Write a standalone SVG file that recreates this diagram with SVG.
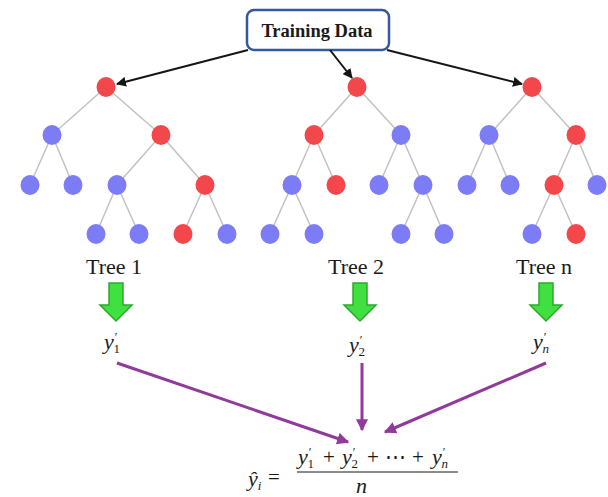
<svg xmlns="http://www.w3.org/2000/svg" width="608" height="497" viewBox="0 0 608 497">
<style>
.e{stroke:#c2c2c2;stroke-width:1.5;fill:none}
.r{fill:#f4474c}
.b{fill:#7b7cf6}
.blk{stroke:#151515;stroke-width:2;fill:none;marker-end:url(#ah)}
.pur{stroke:#913a9c;stroke-width:3;fill:none;marker-end:url(#ap)}
.g{fill:#3fe03f;stroke:#2ca82c;stroke-width:1.5;stroke-linejoin:miter}
.lbl{font-family:"Liberation Serif",serif;font-size:22px;fill:#1a1a1a;text-anchor:middle}
.mi{font-family:"Liberation Serif",serif;font-style:italic;font-size:22px;fill:#1a1a1a}
.mo{font-family:"Liberation Serif",serif;font-size:21px;fill:#1a1a1a}
.pr{font-size:12px;font-style:normal}
.sb{font-size:13px;font-style:normal}
.sbi{font-size:13px;font-style:italic}
</style>
<defs>
<marker id="ah" viewBox="0 0 10 10" refX="9" refY="5" markerWidth="5" markerHeight="5" orient="auto" markerUnits="strokeWidth">
<path d="M0,0 L10,5 L0,10 Z" fill="#151515"/>
</marker>
<marker id="ap" viewBox="0 0 10 10" refX="9" refY="5" markerWidth="4" markerHeight="4" orient="auto" markerUnits="strokeWidth">
<path d="M0,0 L10,5 L0,10 Z" fill="#913a9c"/>
</marker>
</defs>
<rect width="608" height="497" fill="#ffffff"/>

<g id="training-data">
<rect x="247" y="10" width="142" height="40" rx="7" fill="#ffffff" stroke="#35589a" stroke-width="2.5"/>
<text x="317" y="37" font-family="'Liberation Serif',serif" font-weight="bold" font-size="18.5" fill="#1a1a1a" text-anchor="middle">Training Data</text>
</g>

<g id="tree1">
<path class="e" d="M106,87 L52,135 M106,87 L161,135 M52,135 L30,185 M52,135 L73,185 M161,135 L117,185 M161,135 L205,185 M117,185 L96,234 M117,185 L139,234 M205,185 L183,234 M205,185 L227,234"/>
<ellipse class="r" cx="106" cy="87" rx="9.5" ry="10"/>
<ellipse class="b" cx="52" cy="135" rx="9.5" ry="10"/>
<ellipse class="r" cx="161" cy="135" rx="9.5" ry="10"/>
<ellipse class="b" cx="30" cy="185" rx="9.5" ry="10"/>
<ellipse class="b" cx="73" cy="185" rx="9.5" ry="10"/>
<ellipse class="b" cx="117" cy="185" rx="9.5" ry="10"/>
<ellipse class="r" cx="205" cy="185" rx="9.5" ry="10"/>
<ellipse class="b" cx="96" cy="234" rx="9.5" ry="10"/>
<ellipse class="b" cx="139" cy="234" rx="9.5" ry="10"/>
<ellipse class="r" cx="183" cy="234" rx="9.5" ry="10"/>
<ellipse class="b" cx="227" cy="234" rx="9.5" ry="10"/>
<text class="lbl" x="114" y="274">Tree 1</text>
</g>

<g id="tree2">
<path class="e" d="M357,87 L314,135 M357,87 L401,135 M314,135 L292,185 M314,135 L336,185 M401,135 L379,185 M401,135 L423,185 M292,185 L270,234 M292,185 L314,234 M423,185 L401,234 M423,185 L444,234"/>
<ellipse class="r" cx="357" cy="87" rx="9.5" ry="10"/>
<ellipse class="r" cx="314" cy="135" rx="9.5" ry="10"/>
<ellipse class="b" cx="401" cy="135" rx="9.5" ry="10"/>
<ellipse class="b" cx="292" cy="185" rx="9.5" ry="10"/>
<ellipse class="r" cx="336" cy="185" rx="9.5" ry="10"/>
<ellipse class="b" cx="379" cy="185" rx="9.5" ry="10"/>
<ellipse class="b" cx="423" cy="185" rx="9.5" ry="10"/>
<ellipse class="b" cx="270" cy="234" rx="9.5" ry="10"/>
<ellipse class="b" cx="314" cy="234" rx="9.5" ry="10"/>
<ellipse class="b" cx="401" cy="234" rx="9.5" ry="10"/>
<ellipse class="b" cx="444" cy="234" rx="9.5" ry="10"/>
<text class="lbl" x="356" y="274">Tree 2</text>
</g>

<g id="treen">
<path class="e" d="M532,87 L489,135 M532,87 L576,135 M489,135 L467,185 M489,135 L510,185 M576,135 L554,185 M576,135 L597,185 M554,185 L532,234 M554,185 L576,234"/>
<ellipse class="r" cx="532" cy="87" rx="9.5" ry="10"/>
<ellipse class="b" cx="489" cy="135" rx="9.5" ry="10"/>
<ellipse class="r" cx="576" cy="135" rx="9.5" ry="10"/>
<ellipse class="b" cx="467" cy="185" rx="9.5" ry="10"/>
<ellipse class="b" cx="510" cy="185" rx="9.5" ry="10"/>
<ellipse class="r" cx="554" cy="185" rx="9.5" ry="10"/>
<ellipse class="b" cx="597" cy="185" rx="9.5" ry="10"/>
<ellipse class="b" cx="532" cy="234" rx="9.5" ry="10"/>
<ellipse class="r" cx="576" cy="234" rx="9.5" ry="10"/>
<text class="lbl" x="544" y="274">Tree n</text>
</g>

<g id="green-arrows">
<path class="g" d="M109,283 H123 V305 H132 L116,321 L100,305 H109 Z"/>
<path class="g" d="M353,283 H367 V305 H376 L360,321 L344,305 H353 Z"/>
<path class="g" d="M539,283 H553 V305 H562 L546,321 L530,305 H539 Z"/>
</g>

<g id="y1">
<text class="mi" x="104" y="349">y<tspan class="pr" dx="1" dy="-8">′</tspan><tspan class="sb" dx="-4" dy="12">1</tspan></text>
</g>
<g id="y2">
<text class="mi" x="349" y="352">y<tspan class="pr" dx="1" dy="-8">′</tspan><tspan class="sb" dx="-4" dy="12">2</tspan></text>
</g>
<g id="yn">
<text class="mi" x="533" y="349">y<tspan class="pr" dx="1" dy="-8">′</tspan><tspan class="sbi" dx="-4" dy="12">n</tspan></text>
</g>

<g id="connectors">
<line class="blk" x1="248" y1="50" x2="117" y2="84"/>
<line class="blk" x1="330" y1="50" x2="352" y2="78"/>
<line class="blk" x1="387" y1="50" x2="522" y2="84"/>
<line class="pur" x1="117" y1="363" x2="348" y2="442"/>
<line class="pur" x1="362" y1="363" x2="362" y2="430"/>
<line class="pur" x1="546" y1="363" x2="385" y2="432"/>
</g>

<g id="formula">
<text class="mi" x="248" y="486">ŷ<tspan class="sbi" dy="4">i</tspan></text>
<text class="mo" x="268" y="484">=</text>
<text class="mi" x="298" y="464">y<tspan class="pr" dx="1" dy="-8">′</tspan><tspan class="sb" dx="-4" dy="12">1</tspan></text>
<text class="mo" x="323" y="464">+</text>
<text class="mi" x="342" y="464">y<tspan class="pr" dx="1" dy="-8">′</tspan><tspan class="sb" dx="-4" dy="12">2</tspan></text>
<text class="mo" x="367" y="464">+</text>
<text class="mo" x="385" y="464">⋯</text>
<text class="mo" x="412" y="464">+</text>
<text class="mi" x="432" y="464">y<tspan class="pr" dx="1" dy="-8">′</tspan><tspan class="sbi" dx="-4" dy="12">n</tspan></text>
<line x1="297" y1="472" x2="458" y2="472" stroke="#1a1a1a" stroke-width="1.2"/>
<text class="mi" x="356" y="493">n</text>
</g>
</svg>
